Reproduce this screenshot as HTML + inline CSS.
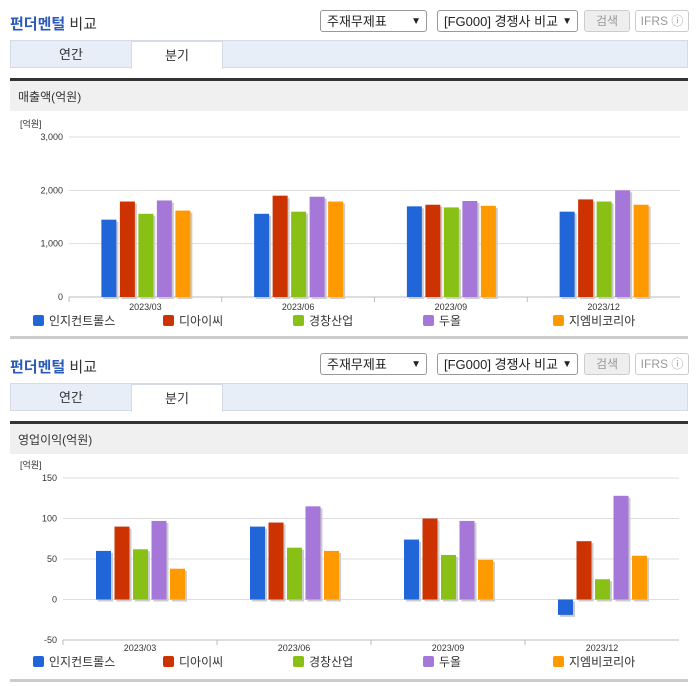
<!DOCTYPE html>
<html><head><meta charset="utf-8">
<style>
body{margin:0;width:696px;height:684px;background:#fff;font-family:"Liberation Sans","Noto Sans CJK KR",sans-serif;position:relative;overflow:hidden}
.sec{position:absolute;left:0;width:696px;height:343px}
.title{position:absolute;left:10px;top:13px;font-size:15px;font-weight:normal;color:#333}
.title b{color:#2a5bb8;font-weight:bold}
.sel{position:absolute;top:10px;height:22px;border:1px solid #999;border-radius:3px;background:#fff;font-size:13px;line-height:22px;padding-left:6px;box-sizing:border-box;color:#222}
.sel span{position:absolute;right:5px;top:0;font-size:10px}
.btn{position:absolute;top:10px;height:22px;border:1px solid #ccc;border-radius:3px;font-size:12px;line-height:20px;text-align:center;color:#999;box-sizing:border-box}
.tabs{position:absolute;left:10px;top:40px;width:678px;height:28px;background:#e8eef8;border:1px solid #d4dbe6;box-sizing:border-box}
.tab{position:absolute;top:0;height:28px;line-height:28px;text-align:center;font-size:13px;color:#333}
.tab.on{background:#fff;border:1px solid #d4dbe6;border-bottom:none;box-sizing:border-box;height:28px}
.dark{position:absolute;left:10px;top:78px;width:678px;height:3px;background:#333}
.hdr{position:absolute;left:10px;top:81px;width:678px;height:30px;background:#f0f0f0;font-size:12px;line-height:32px;padding-left:8px;box-sizing:border-box;color:#333}
.bot{position:absolute;left:10px;top:336px;width:678px;height:3px;background:#ccc}
svg{position:absolute;left:0;top:0}
</style></head><body>
<div class="sec" style="top:0">
<div class="title"><b>펀더멘털</b> 비교</div>
<div class="sel" style="left:320px;width:107px">주재무제표<span>▼</span></div>
<div class="sel" style="left:437px;width:141px">[FG000] 경쟁사 비교<span>▼</span></div>
<div class="btn" style="left:584px;width:46px;background:#eee">검색</div>
<div class="btn" style="left:635px;width:54px">IFRS ⓘ</div>
<div class="tabs">
<div class="tab" style="left:0;width:120px">연간</div>
<div class="tab on" style="left:120px;width:92px">분기</div></div>
<div class="dark"></div>
<div class="hdr">매출액(억원)</div>
<svg id="c1" width="696" height="343"></svg>
<div class="bot"></div>
</div>
<div class="sec" style="top:343px">
<div class="title"><b>펀더멘털</b> 비교</div>
<div class="sel" style="left:320px;width:107px">주재무제표<span>▼</span></div>
<div class="sel" style="left:437px;width:141px">[FG000] 경쟁사 비교<span>▼</span></div>
<div class="btn" style="left:584px;width:46px;background:#eee">검색</div>
<div class="btn" style="left:635px;width:54px">IFRS ⓘ</div>
<div class="tabs">
<div class="tab" style="left:0;width:120px">연간</div>
<div class="tab on" style="left:120px;width:92px">분기</div></div>
<div class="dark"></div>
<div class="hdr">영업이익(억원)</div>
<svg id="c2" width="696" height="343"></svg>
<div class="bot"></div>
</div>
<script>
const categories=["2023/03","2023/06","2023/09","2023/12"];
const seriesNames=["인지컨트롤스","디아이씨","경창산업","두올","지엠비코리아"];
const colors=["#2166d9","#cc3300","#88c016","#a577d8","#ff9900"];
const revInzi=[1450,1560,1700,1600];
const revDIC=[1790,1900,1730,1830];
const revKC=[1560,1600,1680,1790];
const revDool=[1810,1880,1800,2000];
const revGMB=[1620,1790,1710,1730];
const revTicks=[0,1000,2000,3000];
const opInzi=[60,90,74,-19];
const opDIC=[90,95,100,72];
const opKC=[62,64,55,25];
const opDool=[97,115,97,128];
const opGMB=[38,60,49,54];
const opTicks=[-50,0,50,100,150];
const NS="http://www.w3.org/2000/svg";
function mk(svg,tag,attrs,txt){const e=document.createElementNS(NS,tag);for(const k in attrs)e.setAttribute(k,attrs[k]);if(txt!==undefined)e.textContent=txt;svg.appendChild(e);return e;}
function draw(id,series,ticks,x0,x1,yTop,yBot,labelY,legendY){
 const svg=document.getElementById(id);
 const mn=ticks[0],mx=ticks[ticks.length-1];
 const y=v=>yBot-(v-mn)/(mx-mn)*(yBot-yTop);
 const bw=(x1-x0)/categories.length;
 const u=mk(svg,'text',{x:20,y:yTop-10,'font-size':9,fill:'#333'},'[억원]');
 
 ticks.forEach(t=>{
  const l=mk(svg,'line',{x1:x0,x2:x1,y1:y(t),y2:y(t),stroke:'#ddd','stroke-width':1});
  
  const tx=mk(svg,'text',{x:x0-6,y:y(t)+3,'font-size':9,fill:'#333','text-anchor':'end'},t.toLocaleString('en-US'));
  
 });
 const ax=mk(svg,'line',{x1:x0,x2:x1,y1:yBot,y2:yBot,stroke:'#bbb'});
 
 const zero=y(Math.max(0,mn));
 categories.forEach((c,i)=>{
  const tk=mk(svg,'line',{x1:x0+bw*i,x2:x0+bw*i,y1:yBot,y2:yBot+5,stroke:'#bbb'});
  
  const cx=x0+bw*(i+0.5);
  const lb=mk(svg,'text',{x:cx,y:labelY,'font-size':9,fill:'#333','text-anchor':'middle'},c);
  
  series.forEach((s,j)=>{
   const bx=cx-44+j*18.5, v=s[i];
   const top=Math.min(y(v),zero),h=Math.abs(y(v)-zero);
   const sh=mk(svg,'rect',{x:bx+2,y:top+2,width:15,height:h,fill:'#ccc'});
   
   const r=mk(svg,'rect',{x:bx,y:top,width:15,height:h,fill:colors[j]});
   
  });
 });
 seriesNames.forEach((n,j)=>{
  const lx=33+j*130;
  const sq=mk(svg,'rect',{x:lx,y:legendY-6,width:11,height:11,rx:2,fill:colors[j]});
  
  const t=mk(svg,'text',{x:lx+16,y:legendY+4,'font-size':12,fill:'#333'},n);
  
 });
}
draw('c1',[revInzi,revDIC,revKC,revDool,revGMB],revTicks,69,680,137,297,310,321);
draw('c2',[opInzi,opDIC,opKC,opDool,opGMB],opTicks,63,679,135,297,308,319);
</script>
</body></html>
